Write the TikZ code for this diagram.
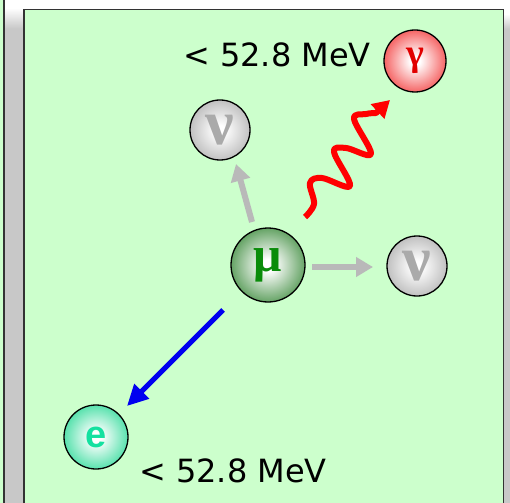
\documentclass[tikz,border=0pt]{standalone}
\usepackage{fontspec}
\setmainfont{DejaVu Sans}
\newfontfamily\grk{Liberation Serif}
\newfontfamily\lsans{Liberation Sans}
\usetikzlibrary{arrows.meta}
\definecolor{panel}{RGB}{204,255,204}
\definecolor{shadowc}{RGB}{200,200,200}
\definecolor{nuedge}{RGB}{160,160,160}
\definecolor{nutext}{RGB}{170,170,170}
\definecolor{muedge}{RGB}{20,115,20}
\definecolor{mutext}{RGB}{10,140,10}
\definecolor{gaedge}{RGB}{240,20,20}
\definecolor{gatext}{RGB}{225,0,0}
\definecolor{eedge}{RGB}{0,210,130}
\definecolor{etext}{RGB}{20,225,160}
\definecolor{arrgray}{RGB}{185,185,185}
\definecolor{arrblue}{RGB}{0,0,240}
\pgfdeclareradialshading{nuball}{\pgfpoint{0bp}{0bp}}{color(0bp)=(white); color(4bp)=(white); color(36bp)=(nuedge); color(50bp)=(nuedge)}
\pgfdeclareradialshading{muball}{\pgfpoint{0bp}{0bp}}{color(0bp)=(white); color(4bp)=(white); color(36bp)=(muedge); color(50bp)=(muedge)}
\pgfdeclareradialshading{gaball}{\pgfpoint{0bp}{0bp}}{color(0bp)=(white); color(4bp)=(white); color(36bp)=(gaedge); color(50bp)=(gaedge)}
\pgfdeclareradialshading{eball}{\pgfpoint{0bp}{0bp}}{color(0bp)=(white); color(4bp)=(white); color(36bp)=(eedge); color(50bp)=(eedge)}
\tikzset{
  particle/.style={circle, draw=black, line width=1.3pt, inner sep=0pt},
  nup/.style={particle, minimum size=60pt, shading=nuball, text=nutext, font=\grk\bfseries\fontsize{64}{64}\selectfont},
  mup/.style={particle, minimum size=74pt, shading=muball, text=mutext, font=\grk\bfseries\fontsize{50}{50}\selectfont},
  gap/.style={particle, minimum size=62pt, shading=gaball, text=gatext, font=\grk\bfseries\fontsize{38}{38}\selectfont},
  ep/.style={particle, minimum size=64pt, shading=eball, text=etext, font=\lsans\bfseries\fontsize{38}{38}\selectfont},
  energy/.style={anchor=base west, inner sep=0pt, font=\fontsize{32}{32}\selectfont},
  grayarrow/.style={draw=arrgray, line width=6pt, -{Triangle[length=17pt,width=19pt]}},
  bluearrow/.style={draw=arrblue, line width=5pt, -{Triangle[length=21pt,width=20pt]}},
  redwave/.style={draw=red, line width=6pt, -{Triangle[length=17pt,width=19pt]}, line cap=butt, line join=round}
}
\begin{document}
\begin{tikzpicture}[x=1pt,y=-1pt]
\useasboundingbox (0,0) rectangle (510,502);
\fill[white] (0,0) rectangle (510,502);
% left neighbour panel and its shadow
\fill[panel] (-5,-5) rectangle (4,510);
\draw[line width=1.3pt, black!80] (4,-5) -- (4,510);
\fill[shadowc] (5,28) rectangle (23,510);
\shade[top color=white, bottom color=shadowc] (5,8) rectangle (23,28.5);
% main panel shadow
\fill[shadowc] (504,28) rectangle (510,510);
\shade[top color=white, bottom color=shadowc] (504,14) rectangle (510,28.5);
% main panel
\fill[panel] (24,9.5) rectangle (503.5,510);
\draw[line width=1.5pt, black!80] (24,510) -- (24,9.5) -- (503.5,9.5) -- (503.5,510);
% particles
\node[gap] (gamma) at (415,61) {γ};
\node[nup] (nutop) at (220,130) {ν};
\node[mup] (mu) at (268,265) {μ};
\node[nup] (nuright) at (417,266) {ν};
\node[ep] (e) at (96,437) {e};
% energy labels
\node[energy] (etop) at (183,67) {< 52.8 MeV};
\node[energy] (ebot) at (139,482) {< 52.8 MeV};
% connectors
\coordinate (upstart) at (252,222);
\coordinate (uptip) at (236,164);
\coordinate (rstart) at (312,267);
\coordinate (rtip) at (373,267);
\coordinate (bstart) at (223,310);
\coordinate (btip) at (127,406);
\coordinate (wtip) at (390,100);
\draw[grayarrow] (upstart) -- (uptip);
\draw[grayarrow] (rstart) -- (rtip);
\draw[bluearrow] (bstart) -- (btip);
\draw[redwave] plot[smooth, tension=0.6] coordinates {(305,217) (314,204) (310,183) (322,178) (350,186) (334,152) (346,148) (371,154) (354,119) (366,114) (376,113)} -- (wtip);
\end{tikzpicture}
\end{document}
